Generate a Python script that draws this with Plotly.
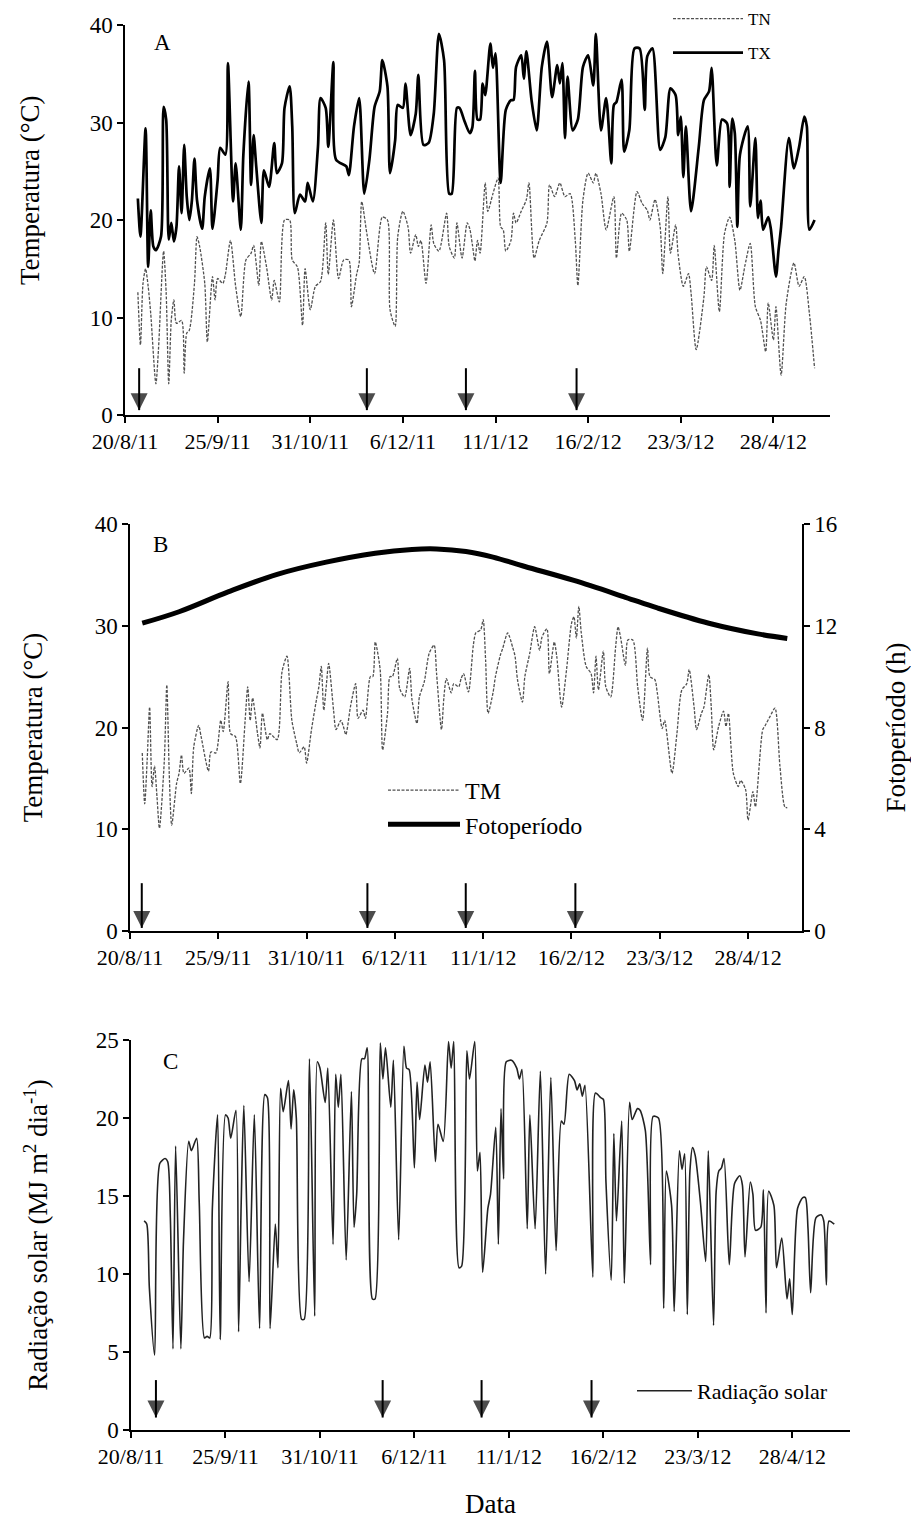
import pandas as pd
import plotly.graph_objects as go

# ---------------- data ----------------
start = pd.Timestamp("2011-08-20")
end = pd.Timestamp("2012-05-20")

tick_dates = ["2011-08-20", "2011-09-25", "2011-10-31", "2011-12-06",
              "2012-01-11", "2012-02-16", "2012-03-23", "2012-04-28"]
tick_labels = ["20/8/11", "25/9/11", "31/10/11", "6/12/11",
               "11/1/12", "16/2/12", "23/3/12", "28/4/12"]

# (day after 20/8/11, value)
tx = [(5,22.2),(6,18.3),(8,29.4),(9,15.2),(10,21.0),(11,17.3),(12,16.9),(14,18.3),(15,31.6),(16,30.3),
      (17,18.0),(18,19.7),(19,17.8),(20,19.3),(21,25.5),(22,20.7),(23,27.7),(24,22.4),(25,20.0),(26,22.0),
      (27,26.3),(28,22.0),(30,19.1),(31,22.4),(33,25.3),(34,19.1),(36,24.1),(37,27.4),(39,26.7),(40,36.1),
      (42,21.9),(43,25.8),(45,19.0),(46,26.7),(48,34.2),(49,23.6),(50,28.7),(51,25.5),(53,19.7),(54,25.1),
      (56,23.4),(58,27.9),(59,24.8),(61,25.8),(62,31.5),(64,33.7),(65,29.6),(66,20.7),(68,22.6),(70,21.9),
      (71,23.8),(73,21.9),(75,27.5),(76,32.5),(78,31.5),(79,27.5),(81,36.2),(82,26.2),(86,25.5),(87,24.6),
      (89,29.6),(91,32.5),(93,22.7),(95,26.2),(97,31.6),(99,33.2),(100,36.4),(102,33.7),(103,24.8),(105,28.2),
      (106,31.8),(108,31.5),(109,34.0),(111,28.7),(113,30.9),(114,34.9),(116,27.7),(118,27.9),(120,30.9),(122,39.1),
      (124,36.4),(126,22.7),(127,22.7),(129,31.5),(130,31.5),(132,30.1),(134,28.9),(135,29.5),(136,35.3),(137,30.3),
      (138,30.3),(139,34.0),(140,32.8),(142,38.1),(143,35.6),(144,37.1),(146,23.8),(148,31.3),(150,32.3),(151,32.3),
      (152,35.7),(154,36.9),(155,34.5),(156,37.3),(158,32.3),(160,29.2),(162,35.7),(164,38.3),(166,32.6),(168,35.9),
      (169,34.0),(170,36.1),(171,28.4),(172,34.7),(174,29.2),(176,30.3),(178,35.7),(180,36.9),(182,33.8),(183,39.1),
      (185,29.2),(187,32.5),(189,25.8),(190,31.8),(191,32.1),(193,34.4),(194,27.0),(196,29.2),(198,37.6),(200,37.6),
      (202,31.3),(203,36.8),(205,37.6),(208,27.2),(210,28.5),(212,33.5),(214,32.8),(215,28.7),(216,30.6),(217,24.4),
      (218,29.6),(220,20.9),(223,27.5),(225,32.3),(227,33.2),(228,35.6),(230,25.6),(232,30.3),(234,29.9),(235,23.4),
      (236,30.4),(237,28.9),(238,19.3),(239,26.7),(242,29.6),(243,21.4),(245,28.4),(246,20.2),(247,22.0),(248,19.0),
      (250,20.3),(251,19.1),(253,14.2),(254,16.9),(255,19.3),(258,28.4),(260,25.3),(262,27.5),(264,30.6),(265,29.6),
      (266,19.0),(268,20.0)]

tn = [(5,12.6),(6,7.2),(7,13.5),(8,15.0),(9,13.2),(10,10.4),(12,3.2),(13,6.7),(15,16.8),(16,12.5),
      (17,3.2),(18,9.8),(19,11.8),(20,9.4),(22,9.7),(23,4.3),(24,8.4),(25,8.7),(27,13.5),(28,18.3),
      (29,17.3),(31,13.5),(32,7.5),(34,14.2),(35,11.8),(36,14.0),(38,13.5),(39,14.4),(41,17.9),(43,13.2),
      (45,10.1),(47,15.9),(49,16.6),(50,17.4),(52,13.3),(53,17.8),(55,15.2),(57,11.8),(58,13.8),(60,11.6),
      (62,20.0),(64,20.0),(65,15.9),(67,15.2),(69,9.2),(70,15.0),(72,10.8),(74,13.2),(76,13.7),(78,19.7),
      (79,14.4),(81,20.0),(83,14.0),(85,15.9),(87,15.9),(88,11.1),(90,14.4),(91,15.6),(92,21.9),(94,18.6),
      (97,14.5),(100,20.3),(102,20.0),(103,10.8),(105,9.1),(106,18.3),(108,20.9),(110,19.3),(111,16.6),(113,18.5),
      (114,17.3),(115,17.9),(117,13.5),(119,19.5),(120,17.6),(122,16.8),(125,20.7),(126,17.3),(128,16.1),(129,19.7),
      (131,16.1),(133,19.7),(134,19.1),(135,17.5),(136,15.8),(137,17.9),(138,16.6),(140,23.8),(141,20.9),(143,22.7),
      (145,24.3),(146,19.3),(147,19.0),(148,16.8),(150,17.9),(151,20.7),(152,19.7),(154,20.9),(156,22.1),(157,23.8),
      (159,16.1),(161,17.9),(164,19.7),(165,23.6),(167,22.4),(169,23.8),(171,22.4),(173,22.7),(175,17.9),(176,13.3),
      (178,22.1),(180,24.8),(182,23.8),(183,24.8),(185,22.7),(187,19.0),(190,22.4),(191,16.1),(193,20.7),(195,20.0),
      (196,16.8),(199,22.9),(201,21.7),(203,21.0),(204,20.0),(206,22.1),(208,19.3),(209,14.5),(211,22.4),(212,16.6),
      (214,19.5),(215,16.4),(217,13.2),(219,14.5),(220,12.5),(222,6.7),(225,12.1),(226,15.2),(228,13.8),(229,17.4),
      (231,10.6),(233,18.6),(235,20.3),(237,17.9),(239,12.8),(241,15.4),(243,17.6),(245,11.1),(247,9.7),(249,6.5),
      (250,11.5),(252,7.7),(253,11.1),(255,4.1),(257,11.5),(260,15.6),(262,13.2),(264,14.2),(266,10.4),(268,4.8)]

tm = [(5,17.5),(6,12.5),(7,16.8),(8,22.0),(9,14.2),(10,16.2),(11,13.2),(12,10.1),(14,16.8),(15,24.2),
      (16,15.5),(17,10.4),(19,14.5),(20,15.5),(21,17.3),(22,15.5),(24,16.0),(25,13.5),(26,18.1),(28,20.2),
      (29,19.1),(32,15.7),(33,17.6),(35,17.5),(37,20.7),(38,19.6),(40,24.5),(41,19.4),(43,19.1),(45,14.5),
      (47,20.9),(48,24.0),(49,20.7),(50,22.9),(52,19.4),(53,18.0),(54,21.4),(56,18.8),(57,19.4),(60,18.8),
      (62,25.5),(64,27.0),(66,20.7),(68,18.4),(69,17.5),(71,18.1),(72,16.5),(74,19.8),(76,22.7),(77,24.0),
      (78,26.0),(79,21.7),(80,24.0),(81,26.3),(83,21.7),(84,19.8),(86,20.7),(87,20.1),(88,19.3),(90,22.2),
      (92,24.3),(93,20.9),(95,21.7),(96,20.9),(98,25.0),(99,25.0),(100,28.4),(102,25.7),(103,17.8),(105,21.4),
      (106,25.0),(107,25.0),(109,26.8),(110,23.8),(112,23.0),(114,25.8),(115,22.7),(117,20.4),(118,23.0),(120,24.5),
      (122,27.3),(124,28.1),(125,25.3),(127,19.8),(128,23.0),(129,24.8),(131,23.4),(132,24.3),(134,24.0),(135,24.8),
      (136,25.3),(138,23.5),(140,28.1),(141,29.3),(143,29.6),(144,30.6),(145,26.6),(146,21.4),(148,23.4),(149,25.0),
      (151,27.1),(152,27.8),(154,29.3),(156,27.9),(157,27.0),(158,24.7),(160,22.5),(161,25.0),(163,27.3),(165,29.9),
      (167,27.6),(168,28.9),(170,29.7),(171,25.3),(173,28.4),(174,27.0),(176,22.0),(178,25.7),(180,30.2),(181,30.9),
      (182,28.8),(183,31.9),(184,29.3),(186,26.0),(188,25.3),(189,23.4),(190,27.0),(191,23.7),(193,27.5),(194,24.0),
      (196,23.0),(198,27.9),(199,29.9),(200,28.9),(202,26.1),(203,28.6),(205,28.6),(207,24.0),(209,20.7),(211,27.8),
      (212,25.0),(214,24.7),(215,23.4),(217,19.9),(218,20.7),(221,15.5),(223,19.4),(225,23.7),(227,24.3),(228,25.7),
      (230,22.0),(231,19.8),(233,21.4),(234,22.0),(236,25.2),(237,22.0),(238,17.8),(240,20.1),(242,21.6),(243,20.1),
      (244,21.4),(246,15.5),(248,14.2),(249,14.8),(251,13.9),(252,10.9),(254,13.7),(255,12.2),(258,19.8),(259,20.2),
      (261,21.1),(263,21.9),(265,16.2),(267,12.2),(268,12.1)]

foto = [(5,12.1),(20,12.55),(40,13.33),(60,14.02),(80,14.5),(100,14.85),(115,15.0),(125,15.02),
        (137,14.92),(148,14.7),(161,14.33),(181,13.78),(202,13.12),(215,12.7),(236,12.1),(256,11.68),(268,11.5)]

rad = [(5,13.4),(6,13.2),(7,9.1),(9,4.8),(11,17.1),(13,17.4),(14,17.2),(15,13.6),(16,5.2),(17,18.2),
       (19,5.2),(20,12.1),(22,18.5),(23,17.9),(25,18.7),(26,14.6),(28,5.9),(29,6.0),(30,5.9),(31,14.2),
       (33,20.2),(34,5.8),(36,20.2),(37,20.0),(38,18.7),(40,20.5),(41,6.3),(42,14.6),(43,20.8),(45,9.5),
       (47,20.2),(49,6.5),(51,21.5),(52,21.3),(53,6.5),(55,13.2),(56,10.4),(57,21.9),(58,20.4),(60,22.4),
       (61,19.3),(62,21.8),(63,20.0),(65,7.1),(66,7.1),(68,23.8),(70,7.3),(71,23.6),(72,23.2),(74,21.0),
       (75,23.2),(77,11.9),(78,22.8),(79,20.7),(80,22.8),(82,10.9),(84,21.7),(85,13.0),(86,15.1),(88,23.8),
       (89,23.8),(90,24.5),(92,8.4),(93,8.4),(95,24.8),(96,22.5),(97,24.5),(99,20.7),(100,23.7),(102,12.2),
       (104,24.6),(105,23.2),(106,23.1),(108,16.8),(109,22.3),(110,19.9),(112,23.4),(113,22.3),(114,23.6),(116,17.2),
       (117,19.6),(119,18.5),(121,24.9),(122,23.2),(123,24.9),(125,10.4),(126,10.5),(128,24.3),(129,22.5),(131,24.9),
       (132,16.6),(133,17.8),(134,10.1),(136,14.2),(137,15.1),(139,19.4),(140,11.9),(141,20.6),(142,16.1),(143,23.6),
       (145,23.7),(147,23.2),(148,22.5),(149,23.1),(151,12.9),(152,20.2),(154,12.9),(156,23.0),(158,10.0),(160,22.6),
       (162,11.5),(164,19.8),(165,19.6),(167,22.8),(169,22.4),(170,21.8),(171,22.2),(172,21.4),(173,22.1),(176,9.8),
       (177,21.6),(179,21.3),(180,21.2),(181,15.9),(183,9.6),(184,19.0),(185,13.4),(187,19.8),(188,9.4),(190,21.0),
       (191,19.9),(193,20.6),(194,20.5),(196,19.2),(198,10.6),(199,20.1),(201,20.0),(203,7.8),(204,16.6),(206,14.4),
       (207,7.6),(209,17.9),(210,16.7),(211,17.7),(212,7.4),(213,16.6),(214,18.1),(215,17.6),(217,14.6),(219,10.8),
       (220,17.9),(222,6.7),(223,15.3),(224,16.6),(225,16.8),(226,17.4),(228,10.6),(230,15.8),(232,16.3),(233,15.7),
       (234,11.1),(236,15.9),(237,15.1),(238,12.8),(240,13.0),(241,15.4),(242,7.5),(243,15.3),(245,14.4),(246,10.4),
       (248,12.3),(250,8.4),(251,9.7),(252,7.4),(254,14.2),(256,14.9),(257,14.9),(258,12.9),(259,8.8),(261,13.6),
       (263,13.8),(264,13.4),(265,9.3),(266,13.4),(268,13.2)]

# event arrows (day after 20/8/11) as drawn in each panel
arrows_a = [5.5, 94, 132.5, 175.5]
arrows_b = [4.8, 96.8, 136.9, 181.6]
arrows_c = [9.5, 95.9, 133.6, 175.5]

# ---------------- helpers ----------------
def to_dates(days):
    return [start + pd.Timedelta(days=float(d)) for d in days]

def split(pairs):
    d = [p[0] for p in pairs]
    v = [p[1] for p in pairs]
    return to_dates(d), v

FONT = "Liberation Serif, Times New Roman, Times, serif"
W, H = 911, 1519

def px_x(x):
    return x / W

def px_y(y):
    return 1 - y / H

fig = go.Figure()

x, y = split(tn)
fig.add_trace(go.Scatter(x=x, y=y, name="TN", mode="lines", xaxis="x", yaxis="y",
                         line=dict(color="#505050", width=1.3, dash="3px,1.5px", shape="spline", smoothing=0.7),
                         legend="legend", legendgroup="tn"))
x, y = split(tx)
fig.add_trace(go.Scatter(x=x, y=y, name="TX", mode="lines", xaxis="x", yaxis="y",
                         line=dict(color="black", width=2.7, shape="spline", smoothing=0.7),
                         legend="legend", legendgroup="tx"))
x, y = split(tm)
fig.add_trace(go.Scatter(x=x, y=y, name="TM", mode="lines", xaxis="x2", yaxis="y2",
                         line=dict(color="#505050", width=1.3, dash="3px,1.5px", shape="spline", smoothing=0.7),
                         legend="legend2", legendgroup="tm"))
x, y = split(foto)
fig.add_trace(go.Scatter(x=x, y=y, name="Fotoperíodo", mode="lines", xaxis="x2", yaxis="y4",
                         line=dict(color="black", width=5, shape="spline", smoothing=1.0),
                         legend="legend2", legendgroup="foto"))
x, y = split(rad)
fig.add_trace(go.Scatter(x=x, y=y, name="Radiação solar", mode="lines", xaxis="x3", yaxis="y3",
                         line=dict(color="#222222", width=1.6, shape="spline", smoothing=0.7),
                         legend="legend3", legendgroup="rad"))

# event arrows drawn as line + arrow-head marker traces
for days, xa, ya, top, tip in [(arrows_a, "x", "y", 4.8, 0.5),
                               (arrows_b, "x2", "y2", 4.7, 0.3),
                               (arrows_c, "x3", "y3", 3.2, 0.8)]:
    ax_x, ax_y, sizes = [], [], []
    for d in days:
        t = start + pd.Timedelta(days=d)
        ax_x += [t, t, None]
        ax_y += [top, tip, None]
        sizes += [0, 17, 0]
    fig.add_trace(go.Scatter(x=ax_x, y=ax_y, mode="lines+markers", xaxis=xa, yaxis=ya,
                             line=dict(color="black", width=2),
                             marker=dict(symbol="arrow-down", size=sizes, color="black",
                                         line=dict(width=0)),
                             showlegend=False, hoverinfo="skip"))

tickfont = dict(family=FONT, size=22, color="black")
ytickfont = dict(family=FONT, size=23, color="black")
titlefont = dict(family=FONT, size=27, color="black")

def xaxis(domain, anchor, title=None):
    d = dict(domain=domain, anchor=anchor, type="date", range=[start, end],
             tickmode="array", tickvals=tick_dates, ticktext=tick_labels,
             ticks="outside", ticklen=6, tickwidth=1.5, tickcolor="black",
             showline=True, linecolor="black", linewidth=1.5,
             showgrid=False, zeroline=False, tickfont=tickfont, automargin=False)
    if title:
        d["title"] = dict(text=title, font=titlefont, standoff=26)
    return d

def yaxis(domain, anchor, rng, dtick, title, standoff, side="left", overlaying=None):
    d = dict(domain=domain, anchor=anchor, range=rng, dtick=dtick, side=side,
             ticks="outside", ticklen=6, tickwidth=1.5, tickcolor="black",
             showline=True, linecolor="black", linewidth=1.5,
             showgrid=False, zeroline=False, tickfont=ytickfont, automargin=False)
    if title:
        d["title"] = dict(text=title, font=titlefont, standoff=standoff)
    if overlaying:
        d["overlaying"] = overlaying
    return d

dom_xa = [px_x(125), px_x(830)]
dom_ya = [px_y(415), px_y(25)]
dom_xb = [px_x(130), px_x(802)]
dom_yb = [px_y(931), px_y(524)]
dom_xc = [px_x(131), px_x(850)]
dom_yc = [px_y(1430), px_y(1040)]

annotations = []
for txt, cx, cy in [("A", 162, 43), ("B", 160, 544), ("C", 170, 1061)]:
    annotations.append(dict(text=txt, x=px_x(cx), y=px_y(cy), xref="paper", yref="paper",
                            xanchor="center", yanchor="middle",
                            showarrow=False, font=dict(family=FONT, size=23, color="black")))
# panel A y title sits above the centre of its axis in the reference
annotations.append(dict(text="Temperatura (°C)", x=px_x(30), y=px_y(190), xref="paper", yref="paper",
                        xanchor="center", yanchor="middle",
                        textangle=-90, showarrow=False, font=titlefont))

legend_common = dict(bgcolor="rgba(0,0,0,0)", xanchor="left", yanchor="top", orientation="v")

fig.update_layout(
    width=W, height=H, autosize=False,
    margin=dict(l=0, r=0, t=0, b=0),
    paper_bgcolor="white", plot_bgcolor="white",
    font=dict(family=FONT, color="black"),
    showlegend=True,
    xaxis=xaxis(dom_xa, "y"),
    yaxis=yaxis(dom_ya, "x", [0, 40], 10, None, 0),
    xaxis2=xaxis(dom_xb, "y2"),
    yaxis2=yaxis(dom_yb, "x2", [0, 40], 10, "Temperatura (°C)", 44),
    yaxis4=yaxis(dom_yb, "x2", [0, 16], 4, "Fotoperíodo (h)", 50, side="right", overlaying="y2"),
    xaxis3=xaxis(dom_xc, "y3", "Data"),
    yaxis3=yaxis(dom_yc, "x3", [0, 25], 5, "Radiação solar (MJ m<sup>2</sup> dia<sup>-1</sup>)", 40),
    legend=dict(**legend_common, x=px_x(668), y=px_y(1), itemwidth=70,
                traceorder="grouped", tracegroupgap=9,
                font=dict(family=FONT, size=17, color="black")),
    legend2=dict(**legend_common, x=px_x(383), y=px_y(768), itemwidth=72, traceorder="normal",
                 font=dict(family=FONT, size=24, color="black")),
    legend3=dict(**legend_common, x=px_x(632), y=px_y(1370), itemwidth=55, traceorder="normal",
                 font=dict(family=FONT, size=22, color="black")),
    annotations=annotations,
)

fig.write_html("out.html")
